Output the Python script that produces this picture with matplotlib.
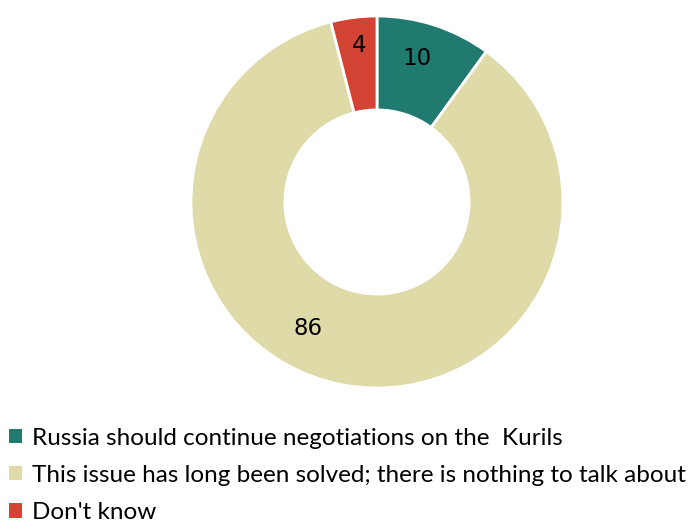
import matplotlib
matplotlib.use("Agg")
import matplotlib.pyplot as plt
from matplotlib.patches import Patch

labels = [
    "Russia should continue negotiations on the  Kurils",
    "This issue has long been solved; there is nothing to talk about",
    "Don't know",
]
values = [10, 86, 4]
colors = ["#217a70", "#dedba9", "#d34333"]

fig = plt.figure(figsize=(6.99, 5.30), dpi=100)
R = 186
ax = fig.add_axes([(377 - R) / 699, (530 - 202 - R) / 530, 2 * R / 699, 2 * R / 530])

wedges, _ = ax.pie(values, colors=colors, startangle=90, counterclock=False,
                   radius=1.0, wedgeprops=dict(width=0.505, edgecolor="white", linewidth=2))
ax.set_xlim(-1, 1)
ax.set_ylim(-1, 1)
ax.set_aspect("equal")

# value labels
lab_font = dict(ha="center", va="center", fontsize=16.5, family="DejaVu Sans")
ax.text(0.215, 0.77, "10", **lab_font)
ax.text(-0.097, 0.84, "4", **lab_font)
ax.text(-0.37, -0.68, "86", **lab_font)

handles = [Patch(facecolor=c, edgecolor="none") for c in colors]
fig.legend(handles, labels, loc="upper left", bbox_to_anchor=(0.013, 0.193),
           frameon=False, prop=dict(family="Lato", size=17.5),
           handlelength=0.55, handleheight=0.55, handletextpad=0.4,
           labelspacing=0.66, borderaxespad=0, borderpad=0)

fig.savefig("out.png", dpi=100)
